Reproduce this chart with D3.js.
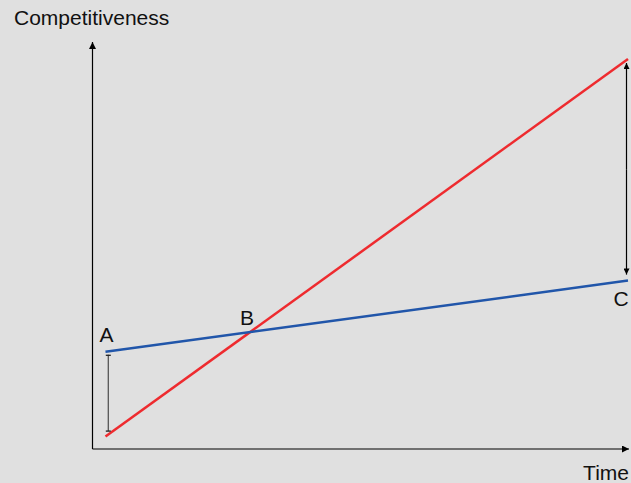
<!DOCTYPE html>
<html><head><meta charset="utf-8">
<script src="https://cdn.jsdelivr.net/npm/d3@7"></script>
<style>html,body{margin:0;padding:0;background:#e0e0e0;}svg{display:block;}</style>
</head><body>
<script>
const times = [0, 10];
const redValues = [3.1, 97.5];
const blueValues = [24.3, 42.1];
const pointLabels = ["A", "B", "C"];
const axisLabels = ["Competitiveness", "Time"];

const W = 631, H = 483;
const svg = d3.select("body").append("svg").attr("width", W).attr("height", H);
svg.append("rect").attr("width", W).attr("height", H).attr("fill", "#e0e0e0");

const x = d3.scaleLinear().domain([0, 10]).range([105.5, 628]);
const y = d3.scaleLinear().domain([0, 100]).range([449, 49]);

const defs = svg.append("defs");
function marker(id, color, w, h) {
  defs.append("marker").attr("id", id).attr("viewBox", "0 0 10 10")
    .attr("refX", 10).attr("refY", 5).attr("markerWidth", w).attr("markerHeight", h)
    .attr("markerUnits", "userSpaceOnUse").attr("orient", "auto")
    .append("path").attr("d", "M0,0 L10,5 L0,10 z").attr("fill", color);
}
marker("axarrow", "#000", 11, 7);
marker("gapEnd", "#000", 9, 6);

// axes
const ax0 = 92.5, ay0 = 449;
svg.append("line").attr("x1", ax0).attr("y1", ay0).attr("x2", ax0).attr("y2", 42)
  .attr("stroke", "#000").attr("stroke-width", 1.2).attr("marker-end", "url(#axarrow)");
svg.append("line").attr("x1", ax0).attr("y1", ay0).attr("x2", 629).attr("y2", ay0)
  .attr("stroke", "#000").attr("stroke-width", 1.2).attr("marker-end", "url(#axarrow)");

const line = d3.line().x(d => x(d[0])).y(d => y(d[1]));
svg.append("path").datum(times.map((t, i) => [t, redValues[i]]))
  .attr("d", line).attr("fill", "none").attr("stroke", "#ee2b2f").attr("stroke-width", 2.5);
svg.append("path").datum(times.map((t, i) => [t, blueValues[i]]))
  .attr("d", line).attr("fill", "none").attr("stroke", "#2156aa").attr("stroke-width", 2.5);

// gap arrows
const lx = x(times[0]) + 2.8;
svg.append("line").attr("x1", lx).attr("x2", lx)
  .attr("y1", y(blueValues[0]) + 3).attr("y2", y(redValues[0]) - 5.5)
  .attr("stroke", "#555").attr("stroke-width", 1.3);
[y(blueValues[0]) + 3.5, y(redValues[0]) - 5.5].forEach(yy => {
  svg.append("line").attr("x1", lx - 2.5).attr("x2", lx + 2.5).attr("y1", yy).attr("y2", yy)
    .attr("stroke", "#222").attr("stroke-width", 1.3);
});
const rx = x(times[1]) - 1.5;
svg.append("line").attr("x1", rx).attr("x2", rx)
  .attr("y1", (y(redValues[1]) + y(blueValues[1])) / 2).attr("y2", y(redValues[1]) + 4)
  .attr("stroke", "#000").attr("stroke-width", 1.2).attr("marker-end", "url(#gapEnd)");
svg.append("line").attr("x1", rx).attr("x2", rx)
  .attr("y1", (y(redValues[1]) + y(blueValues[1])) / 2).attr("y2", y(blueValues[1]) - 6)
  .attr("stroke", "#000").attr("stroke-width", 1.2).attr("marker-end", "url(#gapEnd)");

// intersection B
const sr = (redValues[1] - redValues[0]) / (times[1] - times[0]);
const sb = (blueValues[1] - blueValues[0]) / (times[1] - times[0]);
const tB = (blueValues[0] - redValues[0]) / (sr - sb);
const vB = blueValues[0] + sb * tB;

const font = "'Liberation Sans', Arial, sans-serif";
const txt = (s, px, py, anchor) => svg.append("text").attr("x", px).attr("y", py)
  .attr("text-anchor", anchor || "start").attr("font-family", font).attr("font-size", 21)
  .attr("fill", "#111").text(s);

txt(axisLabels[0], 14, 25);
txt(axisLabels[1], 629, 480, "end");
txt(pointLabels[0], x(times[0]) + 1, y(blueValues[0]) - 9.5, "middle");
txt(pointLabels[1], x(tB) - 3, y(vB) - 7, "middle");
txt(pointLabels[2], x(times[1]) - 7, y(blueValues[1]) + 25, "middle");
</script>
</body></html>
